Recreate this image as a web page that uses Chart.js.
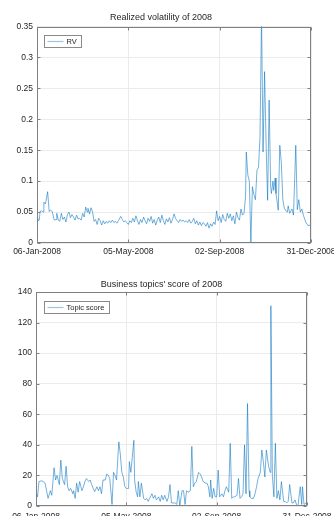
<!DOCTYPE html>
<html><head><meta charset="utf-8">
<script src="https://cdn.jsdelivr.net/npm/chart.js@4"></script>
<style>
html,body{margin:0;padding:0;background:#fff;overflow:hidden;width:334px;height:516px;position:relative;}
#c1{position:absolute;left:0;top:0;}
#c2{position:absolute;left:0;top:258px;}
</style></head><body>
<canvas id="c1" width="334" height="258"></canvas>
<canvas id="c2" width="334" height="272"></canvas>
<script>
// ---- data ----
const xTickDays = [0, 120, 240, 360];
const xTickLabels = ['06-Jan-2008', '05-May-2008', '02-Sep-2008', '31-Dec-2008'];
const rvTicks = [0, 0.05, 0.1, 0.15, 0.2, 0.25, 0.3, 0.35];
const scoreTicks = [0, 20, 40, 60, 80, 100, 120, 140];

const rvDays = [0,1,3,4,6,8,9,11,12,14,16,18,20,22,23,25,26,28,30,32,34,36,38,40,42,44,46,48,50,52,54,56,58,60,62,64,66,67,69,71,73,75,77,79,81,83,85,87,89,91,93,95,97,99,101,103,105,107,110,112,114,116,118,
120,122,124,126,128,130,132,134,136,138,140,142,144,146,148,150,152,154,156,158,160,162,164,166,168,170,172,174,176,178,180,182,184,186,188,190,192,194,196,198,200,202,204,206,208,210,212,214,216,218,220,222,224,226,228,230,232,234,236,238,240,242,244,246,248,250,252,254,256,258,260,262,264,266,268,270,272,
274,275,277,279,281,283,285,287,289,291,293,295,297,299,301,303,305,307,308,310,311,313,314,317,319,321,323,325,327,329,330,332,335,337,340,342,344,346,348,350,353,356,359];
const rvValues = [0.040,0.036,0.037,0.051,0.052,0.050,0.066,0.063,0.069,0.083,0.051,0.053,0.051,0.040,0.037,0.038,0.048,0.037,0.035,0.048,0.038,0.042,0.034,0.046,0.050,0.041,0.046,0.042,0.037,0.045,0.039,0.040,0.037,0.048,0.042,0.058,0.050,0.056,0.047,0.057,0.050,0.035,0.038,0.030,0.040,0.036,0.029,0.036,0.031,0.035,0.032,0.036,0.033,0.037,0.033,0.035,0.032,0.036,0.043,0.038,0.034,0.036,0.033,
0.030,0.036,0.033,0.040,0.034,0.044,0.036,0.030,0.038,0.033,0.042,0.036,0.031,0.040,0.035,0.043,0.032,0.038,0.029,0.037,0.042,0.033,0.045,0.036,0.030,0.039,0.034,0.041,0.032,0.038,0.047,0.040,0.036,0.033,0.038,0.035,0.037,0.034,0.036,0.033,0.038,0.032,0.035,0.040,0.031,0.036,0.029,0.034,0.028,0.033,0.031,0.027,0.033,0.024,0.031,0.027,0.034,0.030,0.052,0.036,0.043,0.033,0.046,0.038,0.035,0.048,0.040,0.047,0.036,0.044,0.031,0.050,0.041,0.037,0.055,0.045,0.048,
0.075,0.147,0.110,0.100,0.000,0.091,0.078,0.070,0.118,0.122,0.171,0.370,0.147,0.277,0.160,0.069,0.231,0.090,0.080,0.100,0.085,0.105,0.080,0.053,0.158,0.130,0.070,0.056,0.052,0.050,0.060,0.048,0.055,0.045,0.158,0.054,0.070,0.050,0.055,0.045,0.034,0.028,0.029];

const scoreDays = [0,2,4,8,12,14,16,19,21,24,26,28,31,33,35,38,40,42,44,46,49,50,52,54,56,58,61,63,65,67,70,72,74,76,78,81,83,85,87,89,92,94,96,98,101,103,105,107,110,112,114,116,118,120,123,124,126,130,131,133,135,136,138,140,143,145,147,149,151,154,156,158,160,163,165,167,169,171,174,176,178,180,182,185,187,189,191,194,196,198,200,202,205,207,209,211,213,216,218,220,222,225,227,229,231,232,234,236,238,240,242,244,247,249,251,253,256,258,260,262,264,267,269,271,273,275,277,279,281,283,284,286,289,291,293,295,298,300,302,304,306,309,311,312,314,316,318,320,322,324,326,329,331,333,335,337,340,342,344,346,348,351,353,354,356,359];
const scoreValues = [9.4,6,16,16.5,15,10,5,10,7,25,17,20,14,30,18,14,26,12.6,10,11.5,8,10,5,15,9,16,10,12.6,16,18,16,17,14,11.5,9.4,12.6,10,12.6,8,17,17,21,20,18,1,22,20,17,42,34,22,19,12.6,11.5,11.5,29,22,43,17,9.4,6,16,6,15,5,4,5,3,5,8,5,7,4,6,3,7,4,7,3,6,14,2,2,2,1,10,0,10,10,1,10,9,10,39,12.6,15,16,22,21,19,16,15,15,12.6,6,17,5,11.5,6,6,23.5,6,8,6,10,12.6,9,41,5,6,6,7,18,5,6,8,40,8,67,10,6,5,5,8,12.6,18,22,36.6,29,19,36.6,26,22,131,20,6,41,5,10,4,16,3,3,2,3,14,2,2,4,1,0,12.6,1,12.6,1,2];

// ---- drawing ----
const FONT = '"Liberation Sans", Arial, Helvetica, sans-serif';
const TEXT = '#262626';
const LINE = 'rgba(0,114,189,0.62)';
const BOX = '#808080';

const boxPlugin = {
  id: 'matlabBox',
  afterDraw(chart, args, opts) {
    const ctx = chart.ctx, a = chart.chartArea;
    const xs = chart.scales.x, ys = chart.scales.y;
    const L = Math.round(a.left) + 0.5, R = Math.round(a.right) - 0.5;
    const T = Math.round(a.top) + 0.5, B = Math.round(a.bottom) - 0.5;
    ctx.save();
    ctx.strokeStyle = BOX; ctx.lineWidth = 1;
    ctx.strokeRect(L, T, R - L, B - T);
    ctx.beginPath();
    const tl = 3;
    xs.ticks.forEach(t => {
      const px = Math.round(xs.getPixelForValue(t.value)) + 0.5;
      ctx.moveTo(px, B); ctx.lineTo(px, B - tl);
      ctx.moveTo(px, T); ctx.lineTo(px, T + tl);
    });
    ys.ticks.forEach(t => {
      const py = Math.round(ys.getPixelForValue(t.value)) + 0.5;
      ctx.moveTo(L, py); ctx.lineTo(L + tl, py);
      ctx.moveTo(R, py); ctx.lineTo(R - tl, py);
    });
    ctx.stroke();
    // legend
    const ds = chart.data.datasets[0];
    ctx.font = '7.5px ' + FONT;
    const tw = ctx.measureText(ds.label).width;
    const lx = Math.round(a.left + opts.legendDx) + 0.5;
    const ly = Math.round(a.top + opts.legendDy) + 0.5;
    const lw = Math.round(3 + 16 + 3 + tw + 5), lh = 12;
    ctx.fillStyle = '#fff';
    ctx.fillRect(lx, ly, lw, lh);
    ctx.strokeStyle = '#8a8a8a';
    ctx.strokeRect(lx, ly, lw, lh);
    ctx.strokeStyle = 'rgba(0,114,189,0.4)';
    ctx.lineWidth = 1.2;
    ctx.beginPath();
    ctx.moveTo(lx + 3, ly + lh / 2); ctx.lineTo(lx + 19, ly + lh / 2);
    ctx.stroke();
    ctx.fillStyle = TEXT;
    ctx.textBaseline = 'middle';
    ctx.textAlign = 'left';
    ctx.fillText(ds.label, lx + 22, ly + lh / 2 + 0.5);
    ctx.restore();
  }
};

function makeChart(id, cfg) {
  const points = cfg.days.map((d, i) => ({ x: d, y: cfg.values[i] }));
  return new Chart(document.getElementById(id), {
    type: 'line',
    data: { datasets: [{
      label: cfg.label, data: points, borderColor: LINE, borderWidth: 0.9,
      pointRadius: 0, tension: 0, fill: false
    }]},
    options: {
      responsive: false, animation: false, devicePixelRatio: 1,
      layout: { padding: { left: cfg.padLeft, right: cfg.padRight, top: 0, bottom: 0 } },
      plugins: {
        legend: { display: false },
        tooltip: { enabled: false },
        title: {
          display: true, text: cfg.title, color: TEXT,
          font: { family: FONT, size: 9, weight: 'normal', lineHeight: 1.2 },
          padding: { top: cfg.titleTop, bottom: cfg.titleBottom }
        },
        matlabBox: { legendDx: cfg.legendDx, legendDy: cfg.legendDy }
      },
      scales: {
        x: {
          type: 'linear', min: 0, max: 360,
          afterBuildTicks: ax => { ax.ticks = xTickDays.map(v => ({ value: v })); },
          afterFit: ax => { ax.height = cfg.xHeight; ax.paddingLeft = 0; ax.paddingRight = 0; },
          ticks: {
            autoSkip: false, maxRotation: 0, minRotation: 0, padding: cfg.xPad,
            color: TEXT, font: { family: FONT, size: 8.5 },
            callback: v => xTickLabels[xTickDays.indexOf(v)]
          },
          grid: { color: '#ebebeb', lineWidth: 1, drawTicks: false },
          border: { display: false }
        },
        y: {
          type: 'linear', min: cfg.yTicks[0], max: cfg.yTicks[cfg.yTicks.length - 1],
          afterBuildTicks: ax => { ax.ticks = cfg.yTicks.map(v => ({ value: v })); },
          afterFit: ax => { ax.width = cfg.yWidth; ax.paddingTop = 0; ax.paddingBottom = 0; },
          ticks: {
            padding: 4, color: TEXT, font: { family: FONT, size: 8.5 },
            callback: v => String(v)
          },
          grid: { color: '#ebebeb', lineWidth: 1, drawTicks: false },
          border: { display: false }
        }
      }
    },
    plugins: [boxPlugin]
  });
}

makeChart('c1', {
  title: 'Realized volatility of 2008', label: 'RV',
  days: rvDays, values: rvValues, yTicks: rvTicks,
  padLeft: 11, padRight: 23, yWidth: 26, xHeight: 15, xPad: 4,
  titleTop: 12.6, titleBottom: 3.1, legendDx: 7, legendDy: 8.5
});
makeChart('c2', {
  title: "Business topics' score of 2008", label: 'Topic score',
  days: scoreDays, values: scoreValues, yTicks: scoreTicks,
  padLeft: 16, padRight: 27, yWidth: 20, xHeight: 24, xPad: 5.5,
  titleTop: 21.1, titleBottom: 2.1, legendDx: 8, legendDy: 8.7
});
</script>
</body></html>
